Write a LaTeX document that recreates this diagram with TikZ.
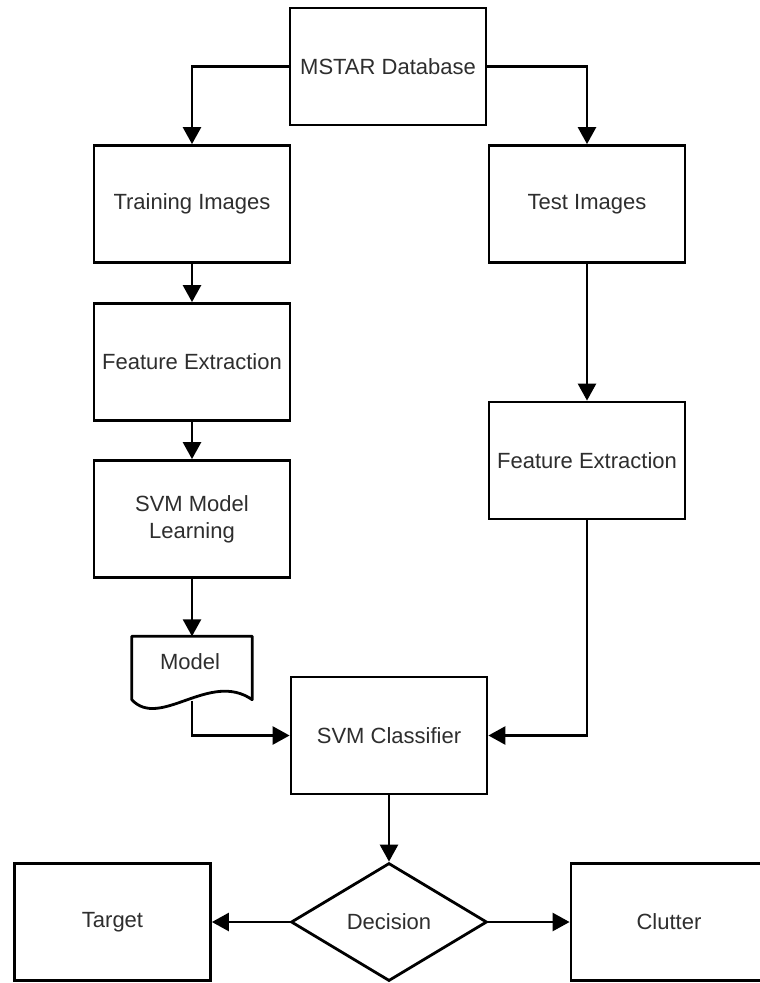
\documentclass[tikz,border=0pt]{standalone}
\usepackage{fontspec}
\setmainfont{Liberation Sans}
\usetikzlibrary{shapes.geometric,arrows.meta}
\definecolor{txt}{HTML}{2E2E2E}
\begin{document}
\begin{tikzpicture}[x=1pt,y=-1pt,
  boxnode/.style={draw=black,line width=2.8pt,rectangle,minimum width=196pt,minimum height=117pt,inner sep=0pt,
    font=\fontsize{22}{27}\selectfont,text=txt,align=center},
  conn/.style={line width=2.6pt,-{Triangle[length=17pt,width=18pt]}}]
\useasboundingbox (0,0) rectangle (760,983);
\fill[white] (0,0) rectangle (760,983);
\node[boxnode] (mstar) at (388,66.5) {MSTAR Database};
\node[boxnode] (train) at (192,204) {Training Images};
\node[boxnode] (test) at (587,204) {Test Images};
\node[boxnode] (fel) at (192,362) {Feature Extraction};
\node[boxnode] (svml) at (192,519) {SVM Model\\Learning};
\node[boxnode] (fer) at (587,460.5) {Feature Extraction};
\node[boxnode] (clf) at (389,735.5) {SVM Classifier};
\node[draw=black,line width=2.8pt,diamond,minimum width=196pt,minimum height=118pt,inner sep=0pt,
  font=\fontsize{22}{27}\selectfont,text=txt] (dec) at (389,922) {Decision};
\node[boxnode] (target) at (112.5,922) {Target};
\node[boxnode] (clutter) at (669,922) {Clutter};
% Model document shape
\node[rectangle,minimum width=120pt,minimum height=63pt,inner sep=0pt] (model) at (192,668) {};
\draw[line width=2.8pt,line join=round]
  (model.south west) -- (model.north west) -- (model.north east) -- (model.south east)
  .. controls (210,670) and (160,730) .. (model.south west) -- cycle;
\node[font=\fontsize{22}{27}\selectfont,text=txt] (modeltxt) at (190,662) {Model};
\coordinate (modelout) at (192,701);
% connectors
\draw[conn] (mstar.west) -| (train.north);
\draw[conn] (mstar.east) -| (test.north);
\draw[conn] (train.south) -- (fel.north);
\draw[conn] (fel.south) -- (svml.north);
\draw[conn] (svml.south) -- (model.north);
\draw[conn] (test.south) -- (fer.north);
\draw[conn] (modelout) |- (clf.west);
\draw[conn] (fer.south) |- (clf.east);
\draw[conn] (clf.south) -- (dec.north);
\draw[conn] (dec.west) -- (target.east);
\draw[conn] (dec.east) -- (clutter.west);
\end{tikzpicture}
\end{document}
